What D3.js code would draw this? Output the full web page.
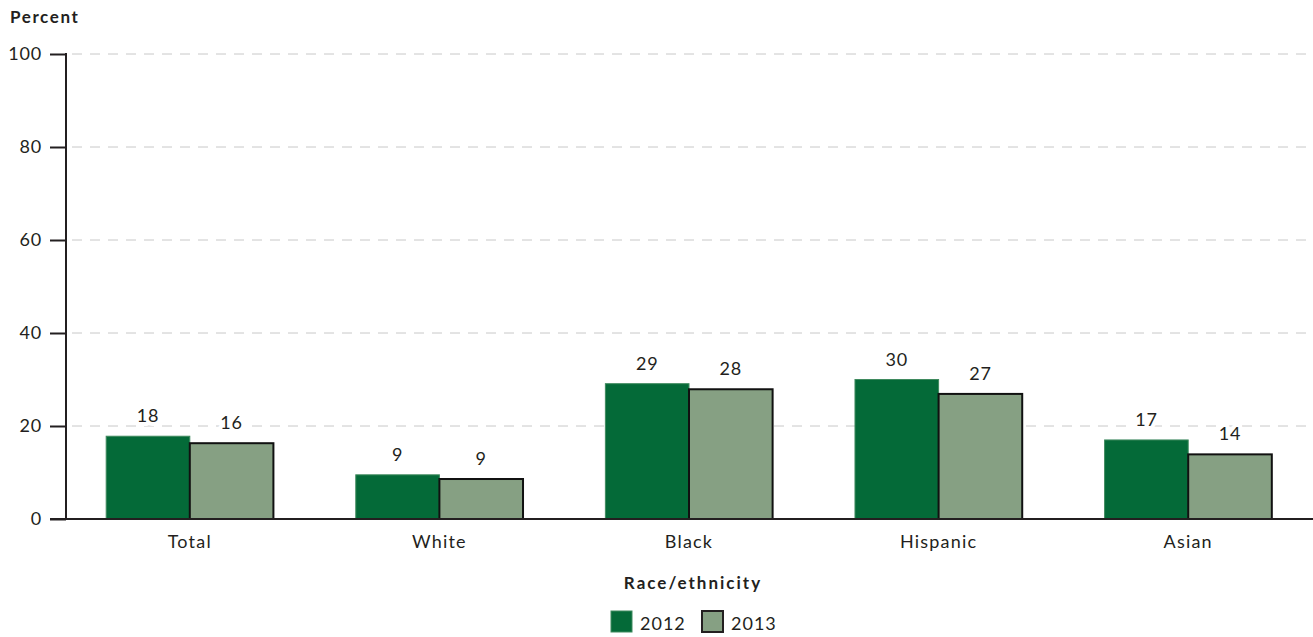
<!DOCTYPE html>
<html><head><meta charset="utf-8">
<script src="https://cdn.jsdelivr.net/npm/d3@7"></script>
<style>body{margin:0;background:#fff}svg{display:block}text{font-family:Lato,"Open Sans",sans-serif;fill:#231f20}</style>
</head><body><svg id="c" width="1313" height="637"></svg>
<script>
const categories = ["Total","White","Black","Hispanic","Asian"];
const years = ["2012","2013"];
const values2012 = [17.8, 9.5, 29.1, 30.0, 17.0];
const values2013 = [16.3, 8.6, 27.9, 26.9, 13.9];
const labels2012 = ["18","9","29","30","17"];
const labels2013 = ["16","9","28","27","14"];
const yTicks = [0,20,40,60,80,100];
const colors = ["#046a38","#86a083"];

const FONT = "Lato,'Open Sans',sans-serif";
const svg = d3.select("#c");
const W = 1313;
const x = d3.scaleBand().domain(categories).range([65, W]).paddingInner(0.33).paddingOuter(0.165);
const xs = d3.scaleBand().domain(years).range([0, x.bandwidth()]);
const y = d3.scaleLinear().domain([0,100]).range([519, 54]);

// grid
svg.append("g").selectAll("line").data(yTicks.filter(d=>d>0)).join("line")
  .attr("x1", 72).attr("x2", W).attr("y1", d=>y(d)).attr("y2", d=>y(d))
  .attr("stroke","#c8c8c8").attr("stroke-width",1).attr("stroke-dasharray","10,8");

const data = [];
categories.forEach((c,i)=>{
  data.push({c, yr:"2012", v:values2012[i], l:labels2012[i]});
  data.push({c, yr:"2013", v:values2013[i], l:labels2013[i]});
});

svg.append("g").selectAll("rect").data(data).join("rect")
  .attr("x", d=>x(d.c)+xs(d.yr)).attr("width", xs.bandwidth())
  .attr("y", d=>y(d.v)).attr("height", d=>y(0)-y(d.v))
  .attr("fill", d=>d.yr==="2012"?colors[0]:colors[1])
  .attr("stroke", d=>d.yr==="2012"?"#3f8a5e":"#111")
  .attr("stroke-width", d=>d.yr==="2012"?1:2);

// value labels with white halo
const lab = svg.append("g").selectAll("g").data(data).join("g")
  .attr("transform", d=>`translate(${x(d.c)+xs(d.yr)+xs.bandwidth()/2},${y(d.v)-14})`);
lab.append("text").attr("text-anchor","middle").attr("font-size",18).attr("letter-spacing",0.8)
  .attr("stroke","#fff").attr("stroke-width",8).attr("stroke-linejoin","round").style("fill","#fff").text(d=>d.l);
lab.append("text").attr("text-anchor","middle").attr("font-size",18).attr("letter-spacing",0.8).text(d=>d.l);

// y axis
const ya = svg.append("g").attr("transform",`translate(66,0)`)
  .call(d3.axisLeft(y).tickValues(yTicks).tickSize(16).tickPadding(8));
ya.select(".domain").attr("stroke","#231f20").attr("stroke-width",2).attr("d",`M0,${y(100)-1}V${y(0)}`);
ya.selectAll(".tick line").attr("stroke","#231f20").attr("stroke-width",2);
ya.selectAll(".tick text").attr("font-size",18).attr("letter-spacing",0.8).attr("font-family",FONT).style("fill","#231f20");

// x axis
const xa = svg.append("g").attr("transform",`translate(0,${y(0)})`)
  .call(d3.axisBottom(x).tickSize(0).tickPadding(0));
xa.select(".domain").attr("stroke","#231f20").attr("stroke-width",2).attr("d",`M50,0H${W}`);
xa.selectAll(".tick text").attr("font-size",18).attr("letter-spacing",1.2).attr("font-family",FONT)
  .attr("dy",null).attr("y",29).style("fill","#231f20");

svg.append("text").attr("x",10).attr("y",23).attr("font-size",17).attr("font-weight","bold").attr("letter-spacing",1.6).text("Percent");
svg.append("text").attr("x",693).attr("y",589).attr("text-anchor","middle").attr("font-size",17).attr("font-weight","bold").attr("letter-spacing",2).text("Race/ethnicity");

// legend
const leg = svg.append("g").selectAll("g").data(years).join("g")
  .attr("transform",(d,i)=>`translate(${611+i*91},611)`);
leg.append("rect").attr("width",21).attr("height",21)
  .attr("fill",(d,i)=>colors[i]).attr("stroke",(d,i)=>i?"#231f20":"#3f8a5e").attr("stroke-width",(d,i)=>i?2:1);
leg.append("text").attr("x",29).attr("y",19).attr("font-size",18).attr("letter-spacing",1).text(d=>d);
</script></body></html>
